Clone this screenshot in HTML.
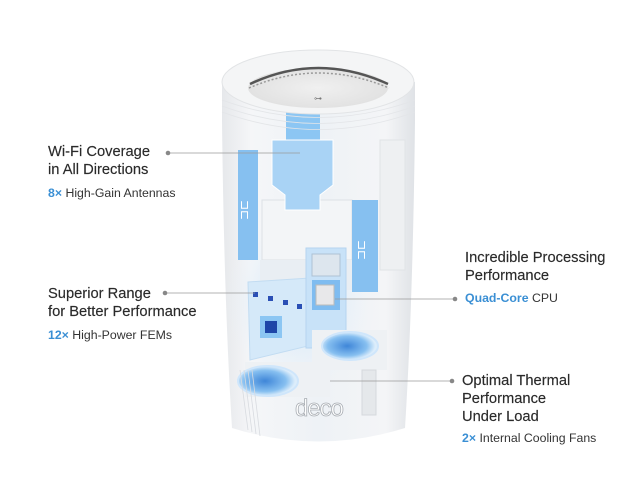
<!DOCTYPE html>
<html><head><meta charset="utf-8"><style>
html,body{margin:0;padding:0;background:#fff;}
body{width:640px;height:480px;overflow:hidden;position:relative;font-family:"Liberation Sans",sans-serif;}
.t{position:absolute;color:#2a2a2a;font-size:14.7px;line-height:18px;-webkit-text-stroke:0.15px #2a2a2a;white-space:nowrap;}
.s{position:absolute;color:#333;font-size:12.3px;white-space:nowrap;}
.b{color:#3a8fd4;font-weight:bold;}
</style></head><body>
<svg width="640" height="480" style="position:absolute;left:0;top:0">
<defs>
<linearGradient id="body" x1="0" x2="1" y1="0" y2="0">
<stop offset="0" stop-color="#e6e8eb"/><stop offset="0.15" stop-color="#f5f6f8"/><stop offset="0.5" stop-color="#eef2f6"/><stop offset="0.85" stop-color="#f4f5f7"/><stop offset="1" stop-color="#dfe2e6"/></linearGradient>
<radialGradient id="glow" cx="0.5" cy="0.5" r="0.5"><stop offset="0" stop-color="#c6e3fb"/><stop offset="1" stop-color="#eaf3fb" stop-opacity="0"/></radialGradient>
<radialGradient id="fan" cx="0.45" cy="0.5" r="0.5"><stop offset="0" stop-color="#3f86d8"/><stop offset="0.7" stop-color="#86bff0"/><stop offset="1" stop-color="#dcedfb"/></radialGradient>
<radialGradient id="top" cx="0.5" cy="0.5" r="0.5"><stop offset="0" stop-color="#f0f0f0"/><stop offset="1" stop-color="#e2e2e2"/></radialGradient>
</defs>
<path d="M222 82 L222 120 Q224 300 232 428 Q318 455 405 428 Q413 300 415 120 L415 82 Z" fill="url(#body)"/>
<ellipse cx="300" cy="300" rx="75" ry="90" fill="url(#glow)"/>
<rect x="262" y="200" width="90" height="60" fill="#f3f5f7" stroke="#dde1e6"/>
<rect x="260" y="260" width="115" height="30" fill="#e9eef3"/>
<rect x="380" y="140" width="25" height="130" fill="#eef0f2" stroke="#e0e3e6"/>
<rect x="286" y="108" width="34" height="95" fill="#8cc6f3"/>
<path d="M286 140 L272 140 L272 185 L285 195 L285 210 L320 210 L320 195 L333 185 L333 140 L320 140Z" fill="#a9d3f5" stroke="#fff" stroke-width="1"/>
<rect x="238" y="150" width="20" height="110" fill="#86c0f0"/>
<rect x="352" y="200" width="26" height="92" fill="#86c0f0"/>
<text x="248" y="220" font-size="12" fill="#fff" font-family="Liberation Sans" transform="rotate(-90 248 220)">⊐⊏</text>
<text x="365" y="260" font-size="12" fill="#fff" font-family="Liberation Sans" transform="rotate(-90 365 260)">⊐⊏</text>
<path d="M248 282 L310 278 L312 345 L250 360 Z" fill="#d5e9f9" stroke="#c2dcf2"/>
<rect x="306" y="248" width="40" height="100" fill="#c8e2f8" stroke="#b6d4ef"/>
<rect x="312" y="254" width="28" height="22" fill="#dde6ee" stroke="#aec2d4"/>
<rect x="312" y="280" width="28" height="30" fill="#7fbcf0"/>
<rect x="316" y="285" width="18" height="20" fill="#e8e8ea" stroke="#bbb"/>
<rect x="253" y="292" width="5" height="5" fill="#2a4fb5"/>
<rect x="268" y="296" width="5" height="5" fill="#2a4fb5"/>
<rect x="283" y="300" width="5" height="5" fill="#2a4fb5"/>
<rect x="297" y="304" width="5" height="5" fill="#2a4fb5"/>
<rect x="260" y="316" width="22" height="22" fill="#8cc6f3"/>
<rect x="265" y="321" width="12" height="12" fill="#1e46a8"/>
<rect x="312" y="330" width="75" height="40" fill="#eef1f4"/>
<ellipse cx="350" cy="346" rx="28" ry="14" fill="url(#fan)" stroke="#cfe6fb" stroke-width="2"/>
<rect x="245" y="362" width="85" height="35" fill="#eef1f4"/>
<ellipse cx="268" cy="381" rx="30" ry="15" fill="url(#fan)" stroke="#cfe6fb" stroke-width="2"/>
<rect x="362" y="370" width="14" height="45" fill="#e5e8eb" stroke="#d5d9dd"/>
<g stroke="#d8dbe0" stroke-width="0.8"><line x1="240" y1="370" x2="248" y2="430"/><line x1="244" y1="370" x2="252" y2="432"/><line x1="248" y1="370" x2="256" y2="434"/><line x1="252" y1="370" x2="260" y2="436"/></g>
<text x="319" y="416" font-size="24" fill="#fff" stroke="#a8adb3" stroke-width="0.8" text-anchor="middle" font-family="Liberation Sans" letter-spacing="-1">deco</text>
<ellipse cx="318" cy="82" rx="96" ry="32" fill="#f4f5f6" stroke="#e2e4e6"/>
<ellipse cx="318" cy="88" rx="70" ry="20" fill="url(#top)"/>
<path d="M250 84 Q318 52 388 84" fill="none" stroke="#555" stroke-width="2.5"/>
<path d="M249 88 Q318 58 389 88" fill="none" stroke="#999" stroke-width="1.5" stroke-dasharray="2 2"/>
<text x="318" y="101" font-size="8" fill="#777" text-anchor="middle">⊶</text>
<g stroke="#e3e5e8" stroke-width="0.8" fill="none"><path d="M222 100 Q318 135 415 100"/><path d="M222 106 Q318 141 415 106"/><path d="M222 112 Q318 147 415 112"/></g>
<g stroke="#9a9a9a" stroke-width="0.8"><line x1="168" y1="153" x2="300" y2="153"/><line x1="165" y1="293" x2="255" y2="293"/><line x1="335" y1="299" x2="455" y2="299"/><line x1="330" y1="381" x2="452" y2="381"/></g>
<g fill="#888"><circle cx="168" cy="153" r="2.3"/><circle cx="165" cy="293" r="2.3"/><circle cx="455" cy="299" r="2.3"/><circle cx="452" cy="381" r="2.3"/></g>
</svg>
<div class="t" style="left:48px;top:143px">Wi-Fi Coverage<br>in All Directions</div>
<div class="s" style="left:48px;top:186px"><span class="b">8×</span> High-Gain Antennas</div>
<div class="t" style="left:48px;top:285px">Superior Range<br>for Better Performance</div>
<div class="s" style="left:48px;top:328px"><span class="b">12×</span> High-Power FEMs</div>
<div class="t" style="left:465px;top:249px">Incredible Processing<br>Performance</div>
<div class="s" style="left:465px;top:291px"><span class="b">Quad-Core</span> CPU</div>
<div class="t" style="left:462px;top:372px">Optimal Thermal<br>Performance<br>Under Load</div>
<div class="s" style="left:462px;top:431px"><span class="b">2×</span> Internal Cooling Fans</div>
</body></html>
